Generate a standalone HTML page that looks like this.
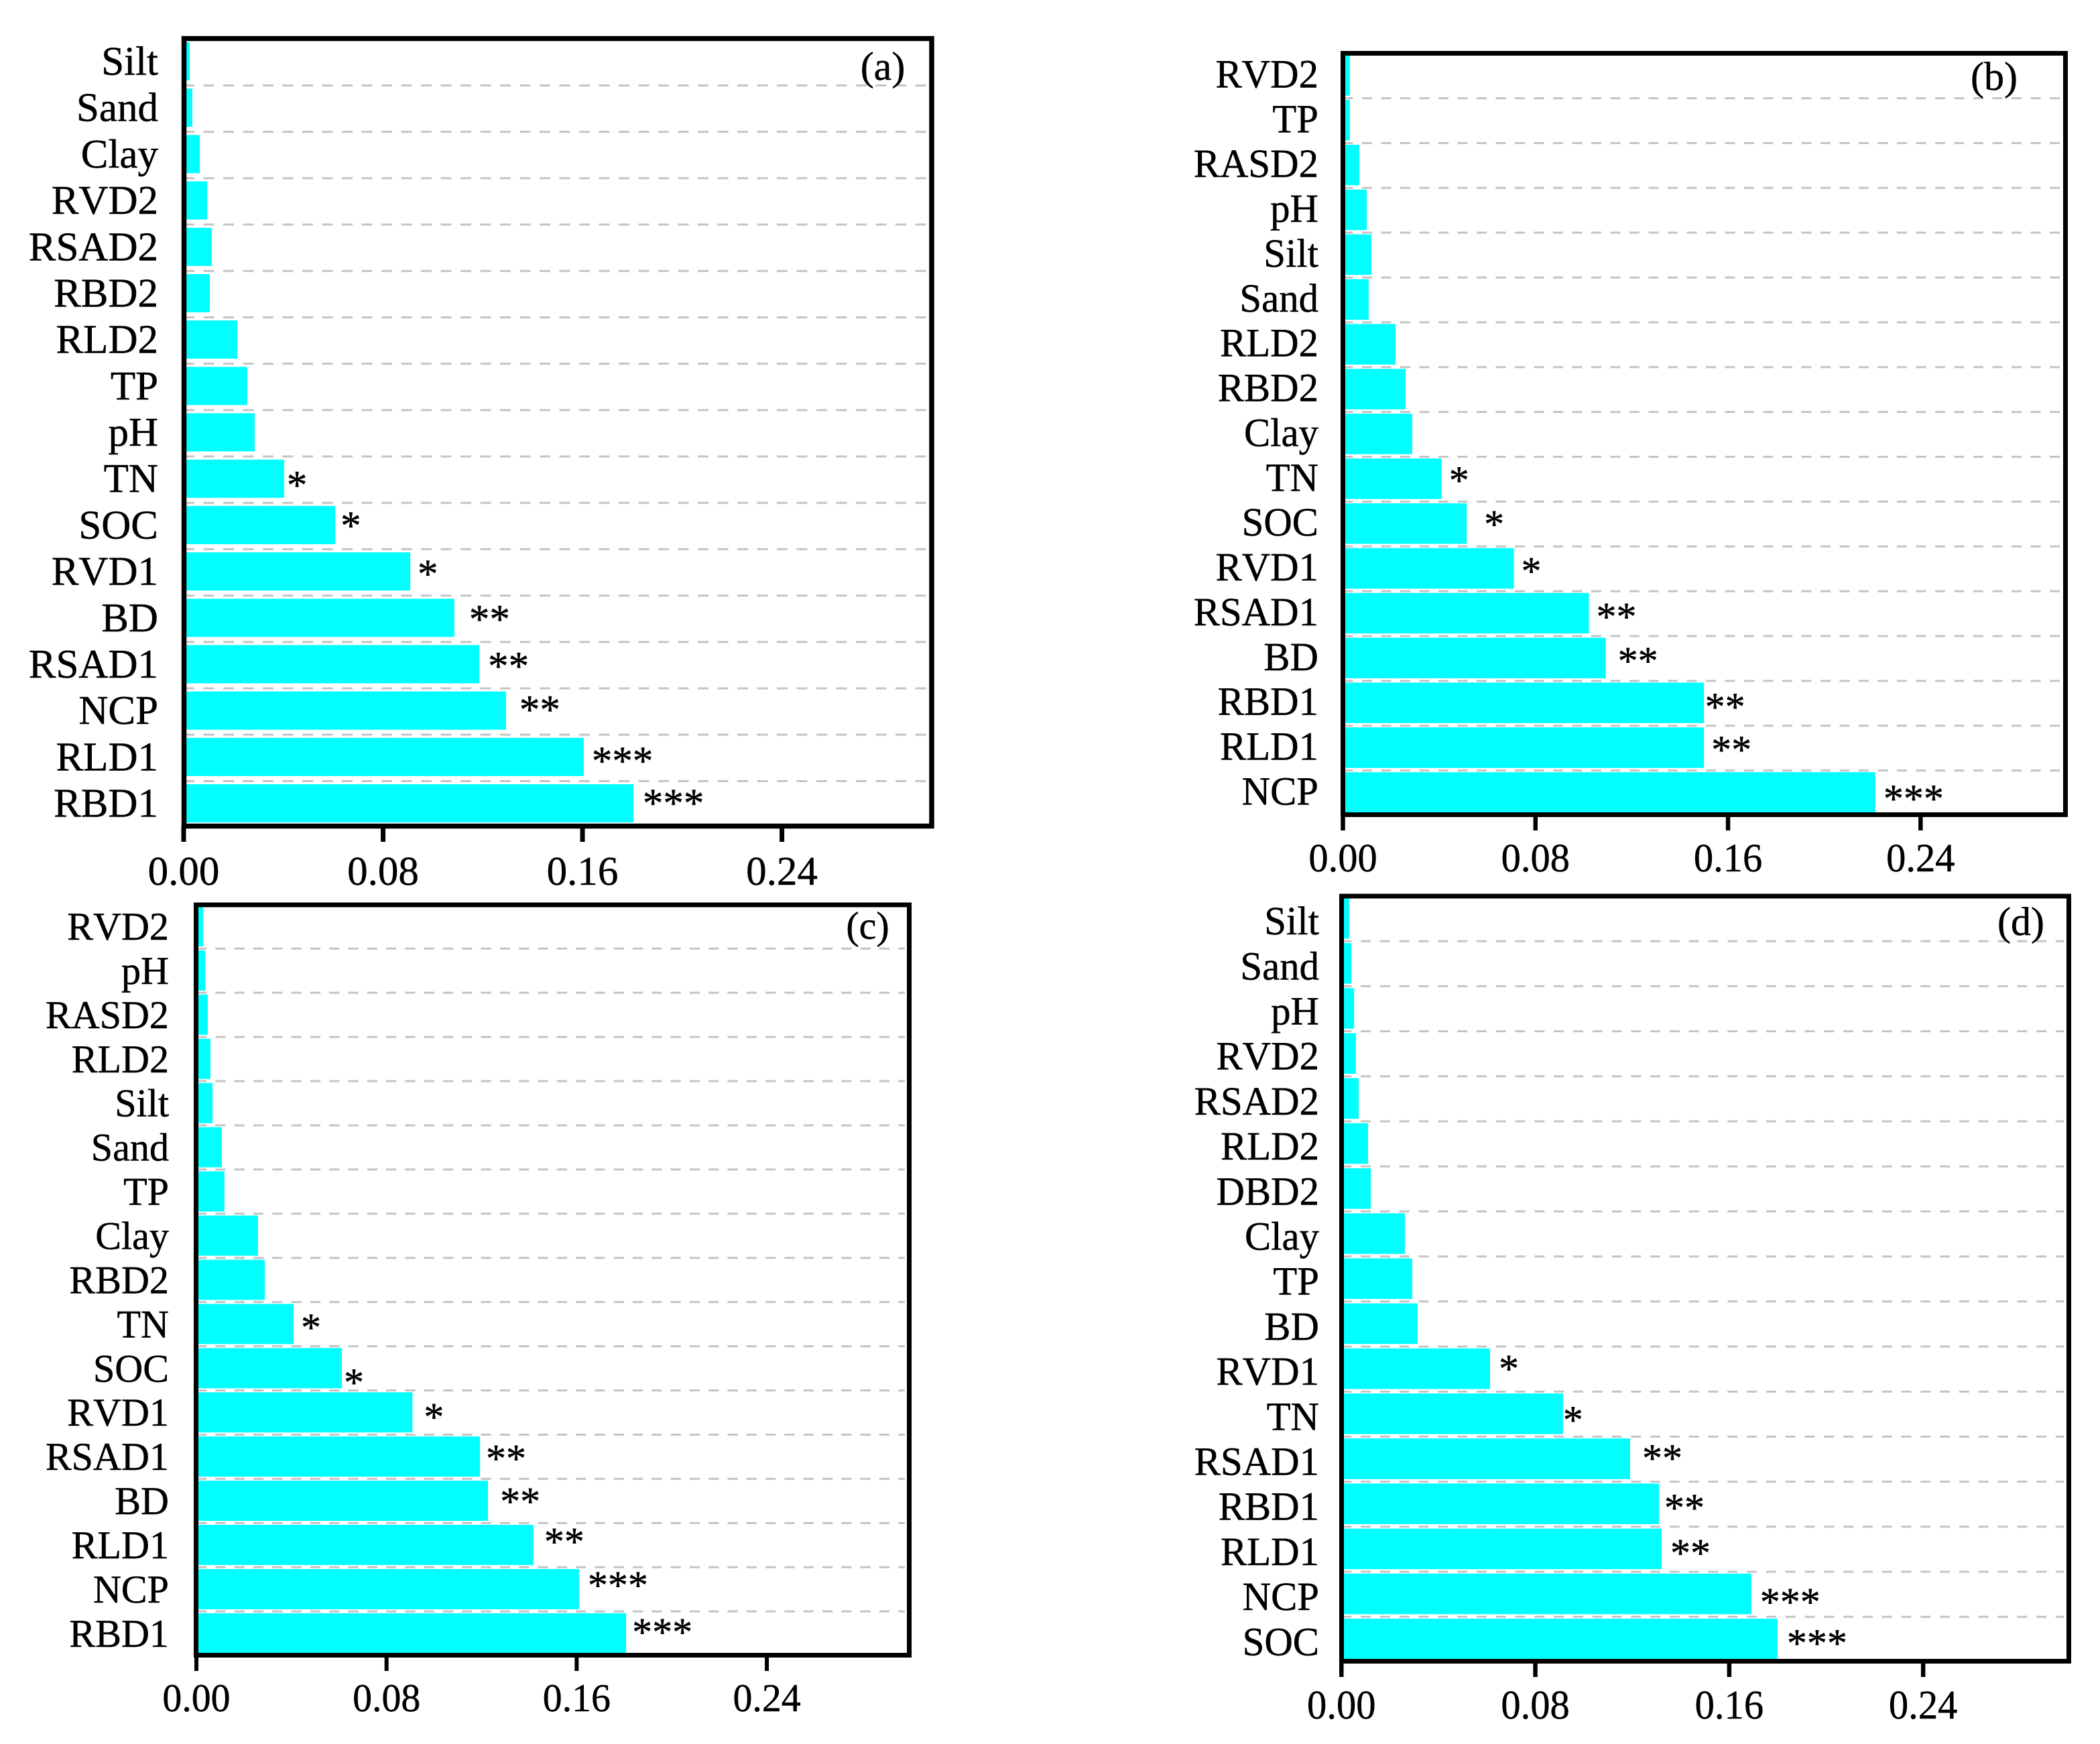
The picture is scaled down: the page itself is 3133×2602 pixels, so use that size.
<!DOCTYPE html>
<html lang="en">
<head>
<meta charset="utf-8">
<title>Feature importance bar charts</title>
<style>
html,body{margin:0;padding:0;background:#fff;}
svg{display:block;}
text{font-family:"Liberation Serif","Times New Roman",serif;fill:#000;stroke:#000;stroke-width:0.5px;font-kerning:none;}
</style>
</head>
<body>
<svg id="figure" xmlns="http://www.w3.org/2000/svg" width="3133" height="2602" viewBox="0 0 3133 2602" text-rendering="geometricPrecision"></svg>
<script>
const tickValues = [0, 0.08, 0.16, 0.24];
const tickLabels = ['0.00', '0.08', '0.16', '0.24'];

const categoriesA = ['Silt','Sand','Clay','RVD2','RSAD2','RBD2','RLD2','TP','pH','TN','SOC','RVD1','BD','RSAD1','NCP','RLD1','RBD1'];
const valuesA = [0.0024,0.0035,0.0065,0.0094,0.0113,0.0105,0.0215,0.0255,0.0285,0.0403,0.0608,0.0909,0.1086,0.1186,0.1293,0.1605,0.1804];
const starsA = ['','','','','','','','','','*','*','*','**','**','**','***','***'];

const categoriesB = ['RVD2','TP','RASD2','pH','Silt','Sand','RLD2','RBD2','Clay','TN','SOC','RVD1','RSAD1','BD','RBD1','RLD1','NCP'];
const valuesB = [0.0029,0.0029,0.0068,0.0099,0.0118,0.0107,0.0219,0.0260,0.0288,0.0410,0.0514,0.0710,0.1022,0.1092,0.1500,0.1500,0.2212];
const starsB = ['','','','','','','','','','*','*','*','**','**','**','**','***'];

const categoriesC = ['RVD2','pH','RASD2','RLD2','Silt','Sand','TP','Clay','RBD2','TN','SOC','RVD1','RSAD1','BD','RLD1','NCP','RBD1'];
const valuesC = [0.0028,0.0037,0.0048,0.0059,0.0068,0.0107,0.0118,0.0259,0.0288,0.0409,0.0612,0.0909,0.1193,0.1227,0.1418,0.1610,0.1808];
const starsC = ['','','','','','','','','','*','*','*','**','**','**','***','***'];

const categoriesD = ['Silt','Sand','pH','RVD2','RSAD2','RLD2','DBD2','Clay','TP','BD','RVD1','TN','RSAD1','RBD1','RLD1','NCP','SOC'];
const valuesD = [0.0032,0.0041,0.0052,0.0060,0.0071,0.0110,0.0121,0.0262,0.0292,0.0314,0.0613,0.0914,0.1191,0.1310,0.1321,0.1691,0.1799];
const starsD = ['','','','','','','','','','','*','*','**','**','**','***','***'];

const SVG_NS = 'http://www.w3.org/2000/svg';
const figure = document.getElementById('figure');

function make(parent, tag, props, content) {
  const node = document.createElementNS(SVG_NS, tag);
  Object.keys(props).forEach(function (k) { node.setAttribute(k, props[k]); });
  if (content !== undefined) node.textContent = content;
  parent.appendChild(node);
  return node;
}

function drawPanel(id, letter, categories, values, stars, L) {
  const xScale = function (v) { return L.x0 + v * L.pxPerUnit; };
  const barTop = function (i) { return L.firstTop + i * L.pitch; };

  const panel = make(figure, 'g', {});
  
  

  for (let i = 1; i < categories.length; i++) {
    const gy = barTop(i) - L.gridGap;
    const grid = make(panel, 'line', {
      x1: L.x0, x2: L.gridEnd, y1: gy, y2: gy,
      stroke: '#c4c4c4', 'stroke-width': 3,
      'stroke-dasharray': L.dash
    });
    
    
  }

  categories.forEach(function (cat, i) {
    const top = barTop(i);
    const bar = make(panel, 'rect', {
      x: L.x0, y: top, width: Math.max(0, xScale(values[i]) - L.x0), height: L.barH, fill: '#00ffff'
    });
    
    

    const labelY = top + L.barH / 2 + L.labelDy;
    const label = make(panel, 'text', {
      transform: 'translate(' + L.labelX + ',' + labelY + ') scale(' + L.labelSx + ',1)',
      'text-anchor': 'end', 'font-size': L.labelSize
    }, cat);
    
    

    if (stars[i]) {
      const nudge = L.starNudge[cat] || [14, 0];
      const starX = xScale(values[i]) + nudge[0] - 2;
      const starY = top + L.barH / 2 + nudge[1] + 26;
      const star = make(panel, 'text', {
        x: starX, y: starY, 'font-size': L.starSize
      }, stars[i]);
      
      
    }
  });

  const frame = make(panel, 'rect', {
    x: L.frame[0], y: L.frame[1], width: L.frame[2] - L.frame[0], height: L.frame[3] - L.frame[1],
    fill: 'none', stroke: '#000', 'stroke-width': L.frameW
  });
  
  

  tickValues.forEach(function (t, i) {
    const tx = xScale(t);
    const tick = make(panel, 'line', {
      x1: tx, x2: tx, y1: L.frame[3], y2: L.tickEnd, stroke: '#000', 'stroke-width': L.tickW
    });
    
    

    const tl = make(panel, 'text', {
      transform: 'translate(' + tx + ',' + L.tickLabelY + ') scale(' + L.tickSx + ',1)',
      'text-anchor': 'middle', 'font-size': L.tickSize
    }, tickLabels[i]);
    
    
  });

  const tag = make(panel, 'text', {
    x: L.letterX, y: L.letterY, 'text-anchor': 'middle', 'font-size': L.letterSize
  }, letter);
  
  
}

drawPanel('a', '(a)', categoriesA, valuesA, starsA, {
  x0: 274, pxPerUnit: 3719, firstTop: 63, pitch: 69.19, barH: 57, gridGap: 4.7, gridEnd: 1384,
  dash: '16 13.5', labelX: 236, labelDy: 20, labelSx: 1, labelSize: 61,
  frame: [274.5, 57.5, 1390, 1232.5], frameW: 7.5, tickEnd: 1256, tickW: 7,
  tickLabelY: 1320, tickSx: 1, tickSize: 61, starSize: 61,
  letterX: 1317, letterY: 119, letterSize: 60,
  starNudge: {TN:[6,4],SOC:[10,-5],RVD1:[13,-2],BD:[24,-4],RSAD1:[15,-3],NCP:[22,-7],RLD1:[14,0],RBD1:[16,-6]}
});

drawPanel('b', '(b)', categoriesB, valuesB, starsB, {
  x0: 2003.5, pxPerUnit: 3591, firstTop: 82.2, pitch: 66.87, barH: 60.5, gridGap: 2.5, gridEnd: 3074,
  dash: '15 13.5', labelX: 1967, labelDy: 18, labelSx: 0.98, labelSize: 60,
  frame: [2003.5, 79.5, 3081.5, 1215.5], frameW: 7, tickEnd: 1239, tickW: 6.5,
  tickLabelY: 1300, tickSx: 0.975, tickSize: 60, starSize: 60,
  letterX: 2975, letterY: 134, letterSize: 60,
  starNudge: {TN:[13,-4],SOC:[28,-5],RVD1:[13,-2],RSAD1:[13,-1],BD:[20,-2],RBD1:[3.5,0],RLD1:[13,-3],NCP:[14,3]}
});

drawPanel('c', '(c)', categoriesC, valuesC, starsC, {
  x0: 293, pxPerUnit: 3546, firstTop: 1352, pitch: 65.93, barH: 60, gridGap: 2.7, gridEnd: 1350,
  dash: '15.3 13', labelX: 252, labelDy: 20, labelSx: 0.985, labelSize: 59,
  frame: [292.5, 1350, 1356.5, 2469.5], frameW: 7, tickEnd: 2493, tickW: 6,
  tickLabelY: 2553, tickSx: 0.98, tickSize: 59, starSize: 60,
  letterX: 1294.5, letterY: 1400.5, letterSize: 58,
  starNudge: {TN:[13,-1],SOC:[5,15],RVD1:[19,1],RSAD1:[11,-3],BD:[20,-5],RLD1:[18,-11],NCP:[15,-12],RBD1:[11,-8]}
});

drawPanel('d', '(d)', categoriesD, valuesD, starsD, {
  x0: 2001.3, pxPerUnit: 3616, firstTop: 1339.8, pitch: 67.2, barH: 60.6, gridGap: 2.8, gridEnd: 3079,
  dash: '15 13.8', labelX: 1968, labelDy: 24, labelSx: 0.98, labelSize: 60,
  frame: [2001.5, 1337, 3086.5, 2478.5], frameW: 7, tickEnd: 2502, tickW: 6.5,
  tickLabelY: 2564, tickSx: 0.96, tickSize: 61, starSize: 60,
  letterX: 3015, letterY: 1395, letterSize: 60,
  starNudge: {RVD1:[15,-6],TN:[2,3],RSAD1:[20,-7],RBD1:[10,0],RLD1:[15,0],NCP:[15,6],SOC:[16,0]}
});
</script>
</body>
</html>
